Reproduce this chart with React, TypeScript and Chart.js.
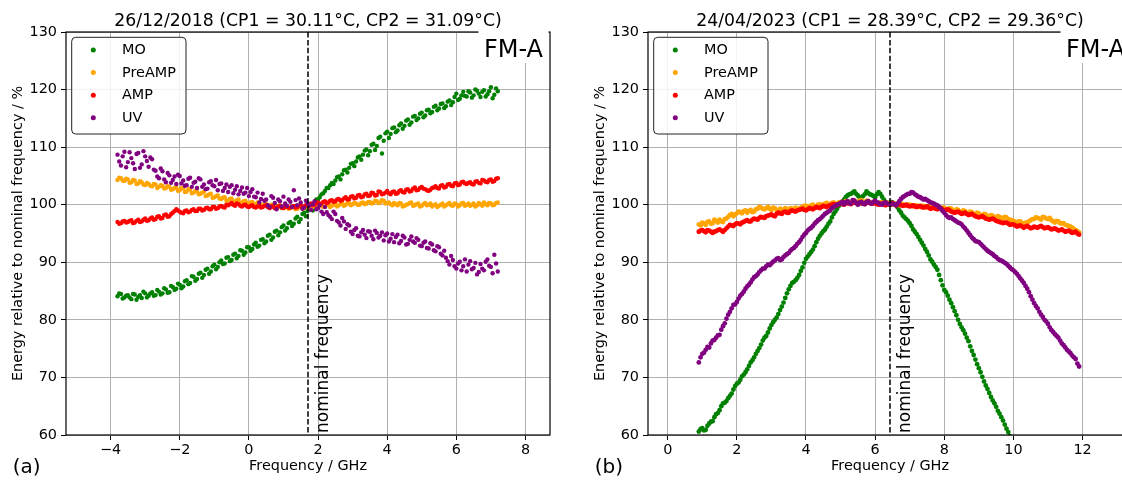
import React, { useEffect, useRef } from 'react';
import { Chart, registerables } from 'chart.js';

Chart.register(...registerables);

const FONT = "'DejaVu Sans', sans-serif";
Chart.defaults.font.family = FONT;

// ---------- shared ----------
const seriesNames = ['MO', 'PreAMP', 'AMP', 'UV'];
const seriesColors = ['#008000', '#ffa500', '#ff0000', '#800080'];
const yTicks = [60, 70, 80, 90, 100, 110, 120, 130];
const yLimits = [60, 130];

// ---------- panel (a) 26/12/2018 ----------
const freqA = [
  -3.8, -3.7, -3.6, -3.5, -3.4, -3.3, -3.2, -3.1, -3.0, -2.9,
  -2.8, -2.7, -2.6, -2.5, -2.4, -2.3, -2.2, -2.1, -2.0, -1.9,
  -1.8, -1.7, -1.6, -1.5, -1.4, -1.3, -1.2, -1.1, -1.0, -0.9,
  -0.8, -0.7, -0.6, -0.5, -0.4, -0.3, -0.2, -0.1, 0.0, 0.1,
  0.2, 0.3, 0.4, 0.5, 0.6, 0.7, 0.8, 0.9, 1.0, 1.1,
  1.2, 1.3, 1.4, 1.5, 1.6, 1.7, 1.8, 1.9, 2.0, 2.1,
  2.2, 2.3, 2.4, 2.5, 2.6, 2.7, 2.8, 2.9, 3.0, 3.1,
  3.2, 3.3, 3.4, 3.5, 3.6, 3.7, 3.8, 3.9, 4.0, 4.1,
  4.2, 4.3, 4.4, 4.5, 4.6, 4.7, 4.8, 4.9, 5.0, 5.1,
  5.2, 5.3, 5.4, 5.5, 5.6, 5.7, 5.8, 5.9, 6.0, 6.1,
  6.2, 6.3, 6.4, 6.5, 6.6, 6.7, 6.8, 6.9, 7.0, 7.1,
  7.2,
];
const freqA2 = [
  -3.75, -3.65, -3.55, -3.45, -3.35, -3.25, -3.15, -3.05, -2.95, -2.85,
  -2.75, -2.65, -2.55, -2.45, -2.35, -2.25, -2.15, -2.05, -1.95, -1.85,
  -1.75, -1.65, -1.55, -1.45, -1.35, -1.25, -1.15, -1.05, -0.95, -0.85,
  -0.75, -0.65, -0.55, -0.45, -0.35, -0.25, -0.15, -0.05, 0.05, 0.15,
  0.25, 0.35, 0.45, 0.55, 0.65, 0.75, 0.85, 0.95, 1.05, 1.15,
  1.25, 1.35, 1.45, 1.55, 1.65, 1.75, 1.85, 1.95, 2.05, 2.15,
  2.25, 2.35, 2.45, 2.55, 2.65, 2.75, 2.85, 2.95, 3.05, 3.15,
  3.25, 3.35, 3.45, 3.55, 3.65, 3.75, 3.85, 3.95, 4.05, 4.15,
  4.25, 4.35, 4.45, 4.55, 4.65, 4.75, 4.85, 4.95, 5.05, 5.15,
  5.25, 5.35, 5.45, 5.55, 5.65, 5.75, 5.85, 5.95, 6.05, 6.15,
  6.25, 6.35, 6.45, 6.55, 6.65, 6.75, 6.85, 6.95, 7.05, 7.15,
];
const moA = [
  84.1, 84.5, 83.9, 84.3, 83.6, 84.4, 84.0, 83.8, 84.6, 84.2,
  84.8, 84.3, 84.9, 84.6, 85.3, 84.8, 85.7, 85.4, 86.1, 85.8,
  86.9, 86.4, 87.5, 87.1, 88.2, 87.8, 88.9, 88.4, 89.6, 89.2,
  90.3, 89.8, 90.9, 90.4, 91.5, 91.1, 92.0, 91.7, 92.6, 92.3,
  93.4, 92.9, 94.0, 93.6, 94.8, 94.3, 95.5, 95.2, 96.4, 95.9,
  97.0, 96.7, 97.9, 97.5, 98.6, 98.9, 99.7, 100.4, 100.9, 101.8,
  102.4, 102.9, 103.8, 104.2, 104.9, 105.3, 106.1, 106.4, 107.2, 107.5,
  108.4, 108.7, 109.6, 109.3, 110.6, 110.2, 111.8, 111.1, 112.7, 112.3,
  113.4, 112.9, 114.1, 113.7, 114.8, 114.3, 115.4, 115.0, 116.0, 115.5,
  116.5, 116.1, 117.2, 116.7, 117.6, 117.1, 118.1, 117.8, 119.3, 118.4,
  119.6, 118.8, 119.5, 119.0, 119.8, 118.7, 119.9, 119.2, 120.4, 119.1,
  119.7,
];
const moA2 = [
  84.6, 83.7, 84.2, 83.9, 84.5, 83.5, 84.3, 84.9, 83.9, 84.6,
  84.2, 85.2, 84.4, 85.5, 84.7, 85.9, 85.2, 86.3, 85.5, 86.7,
  86.2, 87.6, 86.8, 88.0, 87.3, 88.7, 88.0, 89.3, 88.8, 90.0,
  89.7, 90.8, 90.2, 91.3, 90.7, 92.1, 91.3, 92.6, 92.0, 93.1,
  92.7, 93.9, 93.3, 94.6, 93.9, 95.3, 94.7, 96.1, 95.5, 96.8,
  96.3, 97.6, 97.0, 98.4, 98.0, 99.5, 99.0, 100.9, 101.3, 102.0,
  102.9, 103.4, 103.6, 104.8, 104.4, 106.0, 105.6, 107.1, 106.7, 108.2,
  107.8, 109.4, 108.6, 110.4, 109.5, 111.6, 108.9, 112.4, 111.6, 113.3,
  112.6, 113.8, 113.2, 114.6, 113.9, 115.3, 114.7, 115.8, 115.2, 116.4,
  115.9, 117.0, 116.4, 117.5, 116.8, 117.9, 117.3, 118.7, 118.2, 119.0,
  118.9, 119.7, 118.6, 120.0, 119.3, 119.6, 118.8, 119.7, 118.5, 120.2,
];
const preA = [
  104.3, 104.6, 104.1, 104.4, 103.9, 104.2, 103.7, 103.9, 103.4, 103.6,
  103.2, 103.5, 103.1, 103.3, 102.9, 103.1, 102.7, 103.0, 102.5, 102.8,
  102.3, 102.6, 102.1, 102.3, 101.9, 102.2, 101.6, 101.9, 101.3, 101.6,
  101.0, 101.3, 100.8, 101.1, 100.6, 100.9, 100.4, 100.7, 100.3, 100.5,
  100.1, 100.3, 99.9, 100.2, 99.8, 100.0, 99.6, 99.9, 99.5, 99.8,
  99.4, 99.7, 99.3, 99.6, 99.4, 99.7, 99.5, 99.8, 99.6, 99.9,
  99.7, 100.0, 99.8, 100.1, 99.9, 100.2, 100.0, 100.3, 100.1, 100.2,
  100.0, 100.4, 100.2, 100.5, 100.3, 100.6, 100.4, 100.7, 100.3, 100.1,
  100.3, 99.9, 100.2, 99.8, 100.1, 100.4, 99.9, 100.2, 99.8, 100.3,
  100.0, 99.7, 100.1, 99.8, 100.2, 99.9, 100.3, 99.8, 100.1, 99.9,
  100.3, 100.0, 99.8, 100.2, 99.9, 100.1, 100.4, 99.9, 100.2, 100.0,
  100.4,
];
const preA2 = [
  104.7, 104.2, 104.5, 103.8, 104.3, 103.6, 104.1, 103.5, 103.8, 103.3,
  103.6, 102.9, 103.4, 102.8, 103.2, 102.6, 102.9, 102.4, 102.9, 102.2,
  102.7, 102.0, 102.4, 101.8, 102.1, 101.5, 101.8, 101.2, 101.5, 101.1,
  101.2, 100.7, 101.0, 100.5, 100.8, 100.3, 100.6, 100.2, 100.4, 100.0,
  100.4, 99.8, 100.1, 99.7, 100.0, 99.5, 99.8, 99.4, 99.7, 99.3,
  99.6, 99.2, 99.5, 99.3, 99.6, 99.4, 99.7, 99.4, 99.8, 99.6,
  99.9, 99.6, 100.0, 99.7, 100.1, 99.8, 100.2, 99.9, 100.3, 100.0,
  100.3, 100.1, 100.5, 100.2, 100.7, 100.3, 100.8, 100.2, 100.4, 99.9,
  100.1, 100.3, 99.7, 100.0, 100.3, 99.8, 100.1, 99.7, 100.1, 99.9,
  100.2, 99.9, 99.6, 100.0, 99.7, 100.1, 99.9, 100.2, 99.7, 100.2,
  99.8, 100.2, 100.0, 99.7, 100.3, 99.8, 100.1, 100.3, 99.9, 100.3,
];
const ampA = [
  97.0, 96.8, 97.2, 97.0, 97.3, 96.9, 97.4, 97.1, 97.6, 97.3,
  97.8, 97.5, 98.0, 97.7, 98.3, 98.0, 98.6, 99.2, 98.8, 98.5,
  99.0, 98.8, 99.2, 98.9, 99.3, 99.1, 99.5, 99.2, 99.6, 99.4,
  99.8, 99.5, 99.9, 100.3, 99.8, 100.1, 99.7, 100.0, 99.6, 99.9,
  99.5, 99.8, 99.6, 99.9, 99.4, 99.7, 99.5, 99.8, 99.4, 99.7,
  99.5, 99.8, 99.6, 99.9, 99.7, 100.0, 100.2, 100.0, 100.4, 100.2,
  100.6, 100.4, 100.8, 100.6, 101.0, 100.8, 101.3, 101.0, 101.5, 101.2,
  101.7, 101.4, 101.9, 101.6, 102.0, 101.7, 102.2, 101.9, 102.4, 101.8,
  102.3, 102.0, 102.5, 102.1, 102.7, 102.4, 103.0, 102.6, 103.1, 102.7,
  102.4, 102.9, 103.2, 102.8, 103.4, 103.1, 103.6, 103.2, 103.8, 103.5,
  104.0, 103.6, 103.9, 103.5, 104.1, 103.7, 104.2, 103.9, 104.4, 104.1,
  104.6,
];
const ampA2 = [
  96.7, 97.1, 96.9, 97.2, 96.8, 97.2, 97.0, 97.4, 97.2, 97.6,
  97.4, 97.9, 97.6, 98.2, 97.9, 98.4, 98.9, 99.0, 98.6, 98.9,
  98.7, 99.1, 98.9, 99.3, 99.0, 99.4, 99.2, 99.6, 99.3, 99.7,
  99.6, 100.0, 100.1, 100.0, 100.2, 99.8, 99.9, 99.7, 99.8, 99.6,
  99.7, 99.5, 99.8, 99.6, 99.7, 99.4, 99.7, 99.5, 99.6, 99.5,
  99.7, 99.5, 99.8, 99.6, 99.9, 100.1, 99.9, 100.3, 100.1, 100.5,
  100.3, 100.7, 100.5, 100.9, 100.7, 101.1, 100.9, 101.4, 101.1, 101.6,
  101.3, 101.8, 101.5, 102.1, 101.6, 102.3, 101.8, 102.1, 102.0, 102.2,
  101.9, 102.4, 102.2, 102.6, 102.3, 102.8, 102.5, 102.9, 102.8, 102.5,
  102.6, 103.0, 102.9, 103.3, 103.0, 103.5, 103.3, 103.7, 103.4, 103.9,
  103.7, 103.8, 103.6, 104.0, 103.8, 104.3, 104.0, 104.3, 104.0, 104.5,
];
const uvA = [
  108.7, 106.8, 109.2, 107.4, 108.1, 106.2, 109.0, 107.0, 108.4, 106.6,
  107.9, 105.9, 104.6, 105.8, 103.9, 105.1, 104.3, 103.6, 105.0, 104.2,
  103.4, 104.7, 103.8, 102.9, 104.4, 103.5, 102.8, 104.1, 103.2, 102.5,
  103.7, 102.9, 102.2, 103.4, 102.6, 101.8, 103.0, 102.1, 101.5, 102.7,
  101.3, 100.4, 101.9, 100.9, 99.6, 101.2, 99.2, 100.6, 101.4, 99.8,
  100.5, 102.5, 99.9, 100.4, 99.5, 100.2, 99.1, 100.6, 99.4, 98.8,
  99.6, 98.2, 97.5, 98.4, 96.9, 97.7, 95.8, 96.4, 94.9, 95.9,
  94.5, 95.6, 94.2, 95.3, 94.0, 95.1, 94.6, 93.8, 95.0, 94.1,
  93.5, 94.8, 93.7, 94.3, 93.2, 94.5, 93.4, 93.9, 92.8, 93.6,
  92.4, 93.1, 91.9, 92.6, 91.2, 90.8, 89.6, 90.4, 88.9, 90.1,
  89.3, 88.4, 90.2, 89.0, 87.9, 89.7, 88.6, 90.5, 89.2, 91.3,
  88.4,
];
const uvA2 = [
  107.5, 108.4, 106.5, 109.1, 107.2, 108.8, 106.4, 109.3, 107.6, 108.2,
  106.1, 104.9, 106.3, 104.4, 105.5, 103.8, 104.9, 105.2, 103.7, 103.3,
  104.5, 103.1, 104.0, 104.6, 103.1, 102.7, 103.9, 103.4, 104.3, 103.6,
  102.4, 103.5, 103.1, 102.0, 103.2, 102.4, 101.9, 102.9, 102.2, 101.4,
  102.1, 101.0, 100.7, 99.9, 101.5, 100.3, 100.9, 99.7, 100.2, 100.9,
  99.6, 100.8, 101.1, 99.3, 100.7, 99.8, 100.1, 99.2, 99.9, 98.4,
  98.7, 97.9, 98.8, 97.2, 96.4, 97.1, 96.6, 95.3, 95.6, 94.6,
  95.2, 94.8, 95.4, 94.6, 95.5, 94.3, 95.2, 94.7, 93.6, 94.9,
  94.4, 93.3, 94.6, 93.1, 93.9, 93.6, 94.2, 92.9, 93.4, 92.5,
  93.3, 92.1, 92.8, 91.5, 92.0, 90.2, 91.1, 89.3, 89.8, 88.6,
  90.5, 89.6, 88.8, 89.9, 88.3, 88.9, 90.1, 89.4, 88.1, 89.8,
];
const xTicksA = [-4, -2, 0, 2, 4, 6, 8];
const xLimitsA = [-5.29, 8.71];
const nominalA = 1.71;

// ---------- panel (b) 24/04/2023 ----------
const freqB = [
  0.9, 1.0, 1.1, 1.2, 1.3, 1.4, 1.5, 1.6, 1.7, 1.8,
  1.9, 2.0, 2.1, 2.2, 2.3, 2.4, 2.5, 2.6, 2.7, 2.8,
  2.9, 3.0, 3.1, 3.2, 3.3, 3.4, 3.5, 3.6, 3.7, 3.8,
  3.9, 4.0, 4.1, 4.2, 4.3, 4.4, 4.5, 4.6, 4.7, 4.8,
  4.9, 5.0, 5.1, 5.2, 5.3, 5.4, 5.5, 5.6, 5.7, 5.8,
  5.9, 6.0, 6.1, 6.2, 6.3, 6.4, 6.5, 6.6, 6.7, 6.8,
  6.9, 7.0, 7.1, 7.2, 7.3, 7.4, 7.5, 7.6, 7.7, 7.8,
  7.9, 8.0, 8.1, 8.2, 8.3, 8.4, 8.5, 8.6, 8.7, 8.8,
  8.9, 9.0, 9.1, 9.2, 9.3, 9.4, 9.5, 9.6, 9.7, 9.8,
  9.9, 10.0, 10.1, 10.2, 10.3, 10.4, 10.5, 10.6, 10.7, 10.8,
  10.9, 11.0, 11.1, 11.2, 11.3, 11.4, 11.5, 11.6, 11.7, 11.8,
  11.9,
];
const freqB2 = [
  0.95, 1.05, 1.15, 1.25, 1.35, 1.45, 1.55, 1.65, 1.75, 1.85,
  1.95, 2.05, 2.15, 2.25, 2.35, 2.45, 2.55, 2.65, 2.75, 2.85,
  2.95, 3.05, 3.15, 3.25, 3.35, 3.45, 3.55, 3.65, 3.75, 3.85,
  3.95, 4.05, 4.15, 4.25, 4.35, 4.45, 4.55, 4.65, 4.75, 4.85,
  4.95, 5.05, 5.15, 5.25, 5.35, 5.45, 5.55, 5.65, 5.75, 5.85,
  5.95, 6.05, 6.15, 6.25, 6.35, 6.45, 6.55, 6.65, 6.75, 6.85,
  6.95, 7.05, 7.15, 7.25, 7.35, 7.45, 7.55, 7.65, 7.75, 7.85,
  7.95, 8.05, 8.15, 8.25, 8.35, 8.45, 8.55, 8.65, 8.75, 8.85,
  8.95, 9.05, 9.15, 9.25, 9.35, 9.45, 9.55, 9.65, 9.75, 9.85,
  9.95, 10.05, 10.15, 10.25, 10.35, 10.45, 10.55, 10.65, 10.75, 10.85,
  10.95, 11.05, 11.15, 11.25, 11.35, 11.45, 11.55, 11.65, 11.75, 11.85,
];
const moB = [
  60.6, 61.2, 60.9, 62.0, 62.4, 63.6, 64.3, 65.5, 65.9, 66.8,
  67.9, 68.9, 69.6, 70.5, 71.4, 72.6, 73.5, 74.6, 75.7, 76.9,
  77.8, 79.1, 80.0, 81.0, 82.3, 83.8, 85.3, 86.4, 86.9, 87.8,
  89.1, 90.6, 91.4, 92.2, 93.5, 94.6, 95.4, 96.2, 97.1, 98.4,
  99.3, 100.1, 100.9, 101.6, 101.9, 102.3, 101.6, 101.2, 101.8, 102.0,
  101.7, 101.3, 102.2, 101.4, 100.5, 100.2, 100.4, 100.0, 99.0, 98.1,
  97.5, 96.8, 95.7, 94.9, 93.9, 92.9, 91.8, 90.5, 89.6, 88.7,
  86.9, 85.2, 84.2, 82.9, 81.5, 80.0, 78.7, 77.6, 76.3, 74.6,
  73.1, 71.6, 70.1, 68.6, 67.3, 66.0, 64.9, 63.7, 62.5, 61.1,
  59.8,
];
const moB2 = [
  61.0, 60.8, 61.6, 62.3, 63.1, 63.8, 65.0, 65.6, 66.4, 67.2,
  68.5, 69.1, 70.2, 70.9, 72.0, 73.0, 74.1, 75.1, 76.4, 77.2,
  78.5, 79.6, 80.4, 81.7, 83.0, 84.6, 85.9, 86.6, 87.3, 88.5,
  89.9, 91.0, 91.8, 92.8, 94.1, 95.0, 95.7, 96.7, 97.8, 98.8,
  99.8, 100.5, 101.3, 101.8, 102.1, 101.9, 101.3, 101.5, 102.3, 101.8,
  101.5, 101.8, 101.9, 100.9, 100.3, 100.5, 100.1, 99.5, 98.6, 97.8,
  97.2, 96.3, 95.3, 94.4, 93.4, 92.3, 91.2, 90.1, 89.2, 87.8,
  86.0, 84.8, 83.5, 82.2, 80.8, 79.3, 78.2, 76.9, 75.4, 73.9,
  72.3, 70.9, 69.3, 68.0, 66.6, 65.5, 64.2, 63.1, 61.8, 60.5,
];
const preB = [
  96.6, 96.9, 96.5, 97.1, 96.8, 97.2, 97.4, 97.0, 97.6, 98.2,
  98.0, 98.5, 98.7, 98.9, 98.6, 99.1, 98.8, 99.3, 99.5, 99.2,
  99.6, 99.1, 99.4, 98.9, 99.2, 99.4, 99.0, 99.3, 99.5, 99.2,
  99.6, 99.8, 99.7, 100.0, 99.8, 100.1, 100.0, 100.3, 100.1, 100.4,
  100.2, 100.5, 100.3, 100.6, 100.4, 100.7, 100.5, 100.8, 100.4, 100.6,
  100.3, 100.5, 100.2, 100.4, 100.1, 100.3, 100.0, 100.2, 99.9, 100.1,
  99.8, 100.0, 99.7, 99.9, 99.6, 99.8, 99.5, 99.7, 99.4, 99.6,
  99.3, 99.5, 99.1, 99.3, 98.9, 99.1, 98.7, 98.9, 98.5, 98.7,
  98.3, 98.5, 98.1, 98.3, 97.9, 98.1, 97.8, 97.9, 97.6, 97.8,
  97.4, 97.2, 96.9, 97.1, 96.7, 96.9, 97.3, 97.5, 97.7, 97.4,
  97.8, 97.5, 97.3, 96.9, 97.1, 96.7, 96.5, 96.3, 96.0, 95.6,
  95.2,
];
const preB2 = [
  96.4, 96.7, 97.0, 96.7, 97.4, 96.9, 97.1, 97.5, 97.9, 98.4,
  98.3, 98.8, 98.5, 99.0, 98.9, 98.7, 99.2, 99.6, 99.3, 99.4,
  99.3, 99.5, 99.0, 99.3, 99.0, 99.2, 99.4, 99.1, 99.3, 99.5,
  99.8, 99.6, 99.9, 99.7, 100.0, 99.9, 100.2, 100.0, 100.3, 100.1,
  100.4, 100.3, 100.6, 100.4, 100.6, 100.4, 100.7, 100.5, 100.7, 100.4,
  100.5, 100.3, 100.4, 100.2, 100.3, 100.1, 100.2, 100.0, 100.1, 99.9,
  100.0, 99.8, 99.9, 99.7, 99.8, 99.6, 99.7, 99.5, 99.6, 99.4,
  99.5, 99.2, 99.4, 99.0, 99.2, 98.8, 99.0, 98.6, 98.8, 98.4,
  98.6, 98.2, 98.4, 98.0, 98.2, 97.8, 98.0, 97.7, 97.9, 97.5,
  97.3, 97.0, 97.1, 96.8, 96.9, 97.1, 97.5, 97.8, 97.6, 97.9,
  97.6, 97.7, 97.1, 97.2, 96.8, 96.8, 96.4, 96.2, 95.8, 95.4,
];
const ampB = [
  95.3, 95.6, 95.2, 95.5, 95.1, 95.4, 95.7, 95.3, 95.9, 96.5,
  96.3, 96.8, 96.6, 97.0, 97.3, 97.1, 97.6, 97.4, 97.9, 97.7,
  98.1, 98.3, 98.0, 98.6, 98.4, 98.8, 98.6, 99.0, 98.8, 99.1,
  99.3, 99.0, 99.4, 99.2, 99.6, 99.4, 99.8, 99.6, 99.9, 100.1,
  99.9, 100.2, 100.0, 100.3, 100.1, 100.4, 100.2, 100.3, 100.1, 100.4,
  100.2, 100.3, 100.0, 100.2, 99.9, 100.1, 100.3, 99.9, 100.1, 99.8,
  100.0, 99.7, 99.9, 99.6, 99.8, 99.5, 99.7, 99.3, 99.5, 99.2,
  99.4, 99.0, 99.2, 98.8, 98.6, 98.8, 98.4, 98.6, 98.2, 98.4,
  98.0, 97.8, 98.0, 97.6, 97.4, 97.6, 97.2, 97.0, 96.8, 96.9,
  96.5, 96.6, 96.2, 96.4, 96.0, 96.3, 95.9, 96.2, 96.0, 96.3,
  95.9, 96.1, 95.7, 95.9, 95.5, 95.7, 95.3, 95.5, 95.1, 95.3,
  94.8,
];
const ampB2 = [
  95.5, 95.4, 95.6, 95.3, 95.3, 95.6, 95.5, 95.6, 96.2, 96.4,
  96.6, 96.7, 96.9, 97.2, 97.1, 97.4, 97.5, 97.7, 97.8, 98.0,
  98.2, 98.1, 98.4, 98.5, 98.7, 98.6, 98.9, 98.9, 99.0, 99.2,
  99.1, 99.2, 99.3, 99.4, 99.5, 99.6, 99.7, 99.8, 100.0, 100.0,
  100.1, 100.1, 100.2, 100.2, 100.3, 100.3, 100.2, 100.2, 100.3, 100.3,
  100.2, 100.1, 100.1, 100.0, 100.0, 100.2, 100.1, 100.0, 99.9, 99.9,
  99.8, 99.8, 99.7, 99.7, 99.6, 99.6, 99.5, 99.4, 99.3, 99.3,
  99.2, 99.1, 99.0, 98.7, 98.7, 98.6, 98.5, 98.4, 98.3, 98.2,
  97.9, 97.9, 97.8, 97.5, 97.5, 97.4, 97.1, 96.9, 96.9, 96.7,
  96.6, 96.4, 96.3, 96.2, 96.2, 96.1, 96.0, 96.1, 96.2, 96.1,
  96.0, 95.9, 95.8, 95.7, 95.6, 95.5, 95.4, 95.3, 95.2, 95.0,
];
const uvB = [
  72.6, 74.1, 74.8, 75.2, 76.4, 76.9, 77.4, 78.9, 80.2, 81.4,
  82.6, 83.1, 84.2, 84.9, 85.8, 86.5, 87.4, 87.9, 88.6, 88.9,
  89.6, 89.8, 90.3, 90.7, 90.5, 91.2, 91.6, 92.3, 92.8, 93.5,
  94.4, 95.1, 95.8, 96.3, 97.0, 97.5, 98.1, 98.6, 99.0, 99.6,
  100.0, 100.3, 100.1, 100.6, 100.2, 100.7, 100.0, 100.5, 100.1, 100.6,
  100.2, 100.7, 100.3, 100.0, 100.4, 100.1, 100.2, 99.9, 100.6, 101.3,
  101.7, 101.9, 102.1, 101.6, 101.3, 100.9, 100.8, 100.4, 100.2, 99.9,
  99.3, 98.6, 97.9, 97.8, 97.3, 96.9, 96.6, 95.9, 95.1, 94.3,
  93.7, 93.5, 92.9, 92.3, 91.8, 91.4, 90.9, 90.4, 90.1, 89.7,
  89.1, 88.6, 88.0, 87.2, 86.4, 85.4, 84.1, 82.9, 82.0, 80.9,
  80.0, 79.3, 78.2, 77.5, 76.9, 75.9, 75.2, 74.5, 73.8, 73.2,
  71.9,
];
const uvB2 = [
  73.5, 74.3, 75.3, 75.9, 76.5, 77.3, 78.3, 79.4, 80.9, 82.0,
  82.7, 83.7, 84.5, 85.4, 86.1, 87.0, 87.6, 88.3, 88.9, 89.3,
  89.5, 90.1, 90.6, 90.4, 90.9, 91.4, 92.0, 92.5, 93.2, 93.9,
  94.8, 95.5, 96.0, 96.7, 97.3, 97.8, 98.4, 98.8, 99.4, 99.8,
  100.1, 100.5, 100.4, 100.3, 100.8, 100.3, 100.4, 100.2, 100.5, 100.3,
  100.5, 100.4, 100.1, 100.3, 100.2, 100.0, 100.1, 100.2, 101.0, 101.5,
  101.9, 102.2, 101.8, 101.4, 101.1, 101.0, 100.6, 100.3, 100.0, 99.6,
  98.9, 98.2, 97.7, 97.5, 97.1, 96.8, 96.2, 95.5, 94.7, 94.0,
  93.6, 93.2, 92.6, 92.0, 91.6, 91.1, 90.6, 90.3, 89.9, 89.4,
  88.8, 88.3, 87.6, 86.8, 85.9, 84.8, 83.5, 82.4, 81.4, 80.5,
  79.7, 78.7, 77.9, 77.2, 76.4, 75.6, 74.8, 74.2, 73.5, 72.4,
];
const xTicksB = [0, 2, 4, 6, 8, 10, 12];
const xLimitsB = [-0.57, 13.43];
const nominalB = 6.43;

type PanelCfg = {
  freq: number[];
  freq2: number[];
  series: number[][];
  series2: number[][];
  xTicks: number[];
  xLimits: number[];
  nominal: number;
  title: string;
  letter: string;
  tag: string;
  radius: number;
};

const panelA: PanelCfg = {
  freq: freqA,
  freq2: freqA2,
  series: [moA, preA, ampA, uvA],
  series2: [moA2, preA2, ampA2, uvA2],
  xTicks: xTicksA,
  xLimits: xLimitsA,
  nominal: nominalA,
  title: '26/12/2018 (CP1 = 30.11°C, CP2 = 31.09°C)',
  letter: '(a)',
  tag: 'FM-A',
  radius: 2.2,
};
const panelB: PanelCfg = {
  freq: freqB,
  freq2: freqB2,
  series: [moB, preB, ampB, uvB],
  series2: [moB2, preB2, ampB2, uvB2],
  xTicks: xTicksB,
  xLimits: xLimitsB,
  nominal: nominalB,
  title: '24/04/2023 (CP1 = 28.39°C, CP2 = 29.36°C)',
  letter: '(b)',
  tag: 'FM-A',
  radius: 2.4,
};

const fmtTick = (v: number) => (v < 0 ? '\u2212' + String(-v) : String(v));

function makeDecor(p: PanelCfg) {
  return {
    id: 'decor',
    afterDatasetsDraw(chart: any) {
      const { ctx, chartArea: a, scales } = chart;
      const xs = scales.x;
      ctx.save();

      // nominal frequency line
      const nx = xs.getPixelForValue(p.nominal);
      ctx.strokeStyle = '#000';
      ctx.lineWidth = 1.5;
      ctx.setLineDash([5.5, 2.4]);
      ctx.beginPath();
      ctx.moveTo(nx, a.top);
      ctx.lineTo(nx, a.bottom);
      ctx.stroke();
      ctx.setLineDash([]);

      ctx.save();
      ctx.translate(nx + 7, a.bottom - 2);
      ctx.rotate(-Math.PI / 2);
      ctx.font = `17px ${FONT}`;
      ctx.fillStyle = '#000';
      ctx.textAlign = 'left';
      ctx.textBaseline = 'top';
      ctx.fillText('nominal frequency', 0, 0);
      ctx.restore();

      // spines
      ctx.lineWidth = 1.2;
      ctx.strokeStyle = '#000';
      ctx.strokeRect(a.left, a.top, a.right - a.left, a.bottom - a.top);

      // FM-A tag with white box
      ctx.fillStyle = '#fff';
      ctx.fillRect(a.right - 71.5, a.top - 3, 70, 34);
      ctx.fillStyle = '#000';
      ctx.font = `24px ${FONT}`;
      ctx.textAlign = 'right';
      ctx.textBaseline = 'alphabetic';
      ctx.fillText(p.tag, a.right - 7, a.top + 25);

      // legend
      const lx = a.left + 5.7;
      const ly = a.top + 5.3;
      const lw = 114.3;
      const lh = 96.7;
      ctx.beginPath();
      ctx.roundRect(lx, ly, lw, lh, 4);
      ctx.fillStyle = 'rgba(255,255,255,0.85)';
      ctx.fill();
      ctx.lineWidth = 1;
      ctx.strokeStyle = '#222';
      ctx.stroke();
      ctx.font = `14.4px ${FONT}`;
      ctx.textAlign = 'left';
      ctx.textBaseline = 'middle';
      seriesNames.forEach((name, i) => {
        const cy = a.top + 18 + i * 22.6;
        ctx.fillStyle = seriesColors[i];
        ctx.beginPath();
        ctx.arc(lx + 21.6, cy, 2.5, 0, Math.PI * 2);
        ctx.fill();
        ctx.fillStyle = '#000';
        ctx.fillText(name, lx + 50.3, cy + 0.5);
      });

      // title
      ctx.font = `17.28px ${FONT}`;
      ctx.textAlign = 'center';
      ctx.textBaseline = 'alphabetic';
      ctx.fillStyle = '#000';
      ctx.fillText(p.title, (a.left + a.right) / 2, 25.5);

      // panel letter
      ctx.font = `20px ${FONT}`;
      ctx.textAlign = 'left';
      ctx.fillText(p.letter, 12.7, 473);

      ctx.restore();
    },
  };
}

function Panel({ cfg, left }: { cfg: PanelCfg; left: number }) {
  const ref = useRef<HTMLCanvasElement>(null);
  useEffect(() => {
    if (!ref.current) return;
    const datasets = cfg.series.map((vals, i) => {
      const main = vals.map((y, j) => ({ x: cfg.freq[j], y }));
      const extra = cfg.series2[i].map((y, j) => ({ x: cfg.freq2[j], y }));
      return {
        label: seriesNames[i],
        data: [...main, ...extra],
        backgroundColor: seriesColors[i],
        borderColor: seriesColors[i],
        pointRadius: cfg.radius,
        pointBorderWidth: 0,
        pointHoverRadius: cfg.radius,
        showLine: false,
        order: 3 - i,
      };
    });
    const tickFont = { family: FONT, size: 14.4 };
    const chart = new Chart(ref.current, {
      type: 'scatter',
      data: { datasets },
      options: {
        animation: false,
        responsive: false,
        devicePixelRatio: 1,
        events: [],
        layout: { padding: { left: 0, right: 10, top: 32, bottom: 0 } },
        plugins: {
          legend: { display: false },
          tooltip: { enabled: false },
          title: { display: false },
        },
        scales: {
          x: {
            type: 'linear',
            min: cfg.xLimits[0],
            max: cfg.xLimits[1],
            afterFit: (s: any) => {
              s.height = 46;
            },
            afterBuildTicks: (s: any) => {
              s.ticks = cfg.xTicks.map((v) => ({ value: v }));
            },
            grid: { color: '#b0b0b0', lineWidth: 1, tickColor: '#000', tickLength: 5, drawTicks: true },
            border: { display: false },
            ticks: {
              color: '#000',
              font: tickFont,
              padding: 2,
              maxRotation: 0,
              autoSkip: false,
              callback: (v: any) => fmtTick(Number(v)),
            },
            title: {
              display: true,
              text: 'Frequency / GHz',
              color: '#000',
              font: tickFont,
              padding: { top: 0, bottom: 6 },
            },
          },
          y: {
            type: 'linear',
            min: yLimits[0],
            max: yLimits[1],
            afterFit: (s: any) => {
              s.width = 66;
            },
            afterBuildTicks: (s: any) => {
              s.ticks = yTicks.map((v) => ({ value: v }));
            },
            grid: { color: '#b0b0b0', lineWidth: 1, tickColor: '#000', tickLength: 5, drawTicks: true },
            border: { display: false },
            ticks: {
              color: '#000',
              font: tickFont,
              padding: 4,
              autoSkip: false,
              callback: (v: any) => fmtTick(Number(v)),
            },
            title: {
              display: true,
              text: 'Energy relative to nominal frequency / %',
              color: '#000',
              font: tickFont,
              padding: { top: 10, bottom: 0 },
            },
          },
        },
      },
      plugins: [makeDecor(cfg)],
    } as any);
    return () => chart.destroy();
  }, [cfg]);
  return (
    <canvas
      ref={ref}
      width={560}
      height={481}
      style={{ position: 'absolute', left, top: 0, width: 560, height: 481, display: 'block' }}
    />
  );
}

export default function App() {
  return (
    <div
      style={{
        position: 'fixed',
        left: 0,
        top: 0,
        width: 1122,
        height: 481,
        overflow: 'hidden',
        background: '#fff',
      }}
    >
      <Panel cfg={panelA} left={0} />
      <Panel cfg={panelB} left={582} />
    </div>
  );
}
